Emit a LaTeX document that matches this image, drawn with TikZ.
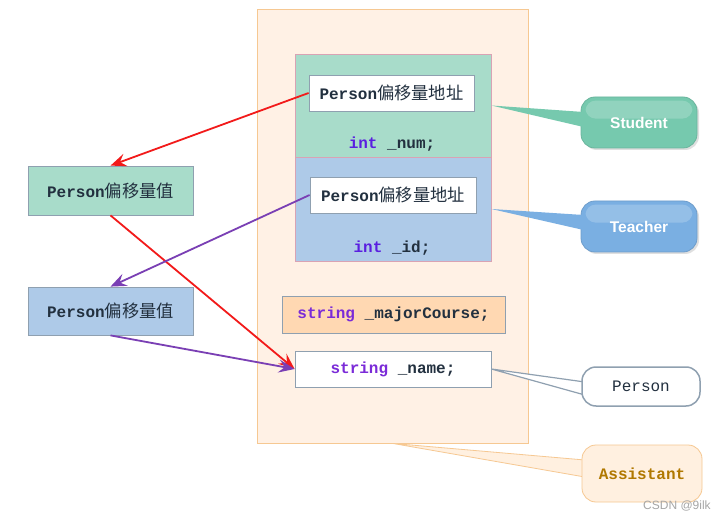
\documentclass[tikz,border=0pt]{standalone}
\usepackage{fontspec}
\setmainfont{Liberation Sans}
\setmonofont{Liberation Mono}
\newfontfamily\cjk[Scale=1.08]{Noto Sans CJK SC}
\usetikzlibrary{arrows.meta,shadows,calc}
\definecolor{outerfill}{HTML}{FFF1E5}
\definecolor{outerdraw}{HTML}{F6C892}
\definecolor{greenfill}{HTML}{A8DCCA}
\definecolor{bluefill}{HTML}{AECAE8}
\definecolor{pinkdraw}{HTML}{D9A3B4}
\definecolor{greydraw}{HTML}{8FA0B0}
\definecolor{orangefill}{HTML}{FFD8B2}
\definecolor{txt}{HTML}{22303F}
\definecolor{kwint}{HTML}{5A1FE0}
\definecolor{kwstr}{HTML}{7B2BD8}
\definecolor{redarr}{HTML}{F21A1A}
\definecolor{purarr}{HTML}{7A3FB4}
\definecolor{stugreen}{HTML}{76C9AE}
\definecolor{teablue}{HTML}{7AAFE2}
\definecolor{assfill}{HTML}{FFF0E0}
\definecolor{asstxt}{HTML}{B07800}
\newcommand\pzz[1]{\ttfamily\bfseries Person{\cjk\mdseries #1}}
\tikzset{
  code/.style={font=\ttfamily\bfseries\fontsize{16}{18}\selectfont, text=txt, inner sep=0pt},
  membox/.style={draw=pinkdraw, line width=0.8pt, inner sep=0pt},
  cellbox/.style={draw=greydraw, line width=0.8pt, inner sep=0pt, font=\fontsize{16}{18}\selectfont, text=txt},
  glossy/.style={rounded corners=14pt, line width=0.8pt, inner sep=0pt, text=white,
    font=\bfseries\fontsize{15.5}{18}\selectfont,
    drop shadow={opacity=0.25, shadow xshift=2pt, shadow yshift=-2pt}},
  arr/.style={line width=1.8pt, -{Stealth[length=16pt,width=13pt,inset=6pt]}},
  callbox/.style={rounded corners=14pt, inner sep=0pt},
}
\begin{document}
\begin{tikzpicture}[x=1pt,y=-1pt]
\useasboundingbox (0,0) rectangle (722,518);
\fill[white] (0,0) rectangle (722,518);

% outer Assistant object
\node[fill=outerfill, draw=outerdraw, line width=0.8pt, minimum width=271pt, minimum height=434pt, inner sep=0pt] (asst) at (392.5,226) {};

% Student part
\node[membox, fill=greenfill, minimum width=196pt, minimum height=103pt] (stu) at (393,105.5) {};
\node[membox, fill=bluefill, minimum width=196pt, minimum height=104pt] (tea) at (393,209) {};
\node[cellbox, fill=white, minimum width=165pt, minimum height=36pt] (in1) at (391.5,93) {\pzz{偏移量地址}};
\node[cellbox, fill=white, minimum width=166pt, minimum height=36pt] (in2) at (393,195) {\pzz{偏移量地址}};
\node[code] (num) at (392,144) {\textcolor{kwint}{int} \_num;};
\node[code] (id) at (392,248) {\textcolor{kwint}{int} \_id;};

% majorCourse and name
\node[cellbox, fill=orangefill, minimum width=223pt, minimum height=37pt, font=\ttfamily\bfseries\fontsize{16}{18}\selectfont] (major) at (393.5,314.5) {\textcolor{kwstr}{string} \_majorCourse;};
\node[cellbox, fill=white, minimum width=196pt, minimum height=36pt, font=\ttfamily\bfseries\fontsize{16}{18}\selectfont] (name) at (393,369) {\textcolor{kwstr}{string} \_name;};

% left value boxes
\node[cellbox, fill=greenfill, minimum width=165pt, minimum height=49pt] (left1) at (110.5,190.5) {\pzz{偏移量值}};
\node[cellbox, fill=bluefill, minimum width=165pt, minimum height=48pt] (left2) at (110.5,311) {\pzz{偏移量值}};

% callouts
\node[glossy, fill=stugreen, draw=stugreen!90!black, minimum width=116pt, minimum height=51pt] (stucall) at (639,122.5) {};
\fill[stugreen] (stu.east) -- ($(stucall.west)+(3,-10.5)$) -- ($(stucall.west)+(3,4.5)$) -- cycle;
\fill[white, opacity=0.2, rounded corners=10pt] ($(stucall.north west)+(5,4)$) rectangle ($(stucall.north east)+(-5,22)$);
\node[text=white, font=\bfseries\fontsize{15.5}{18}\selectfont] (stulab) at (stucall) {Student};

\node[glossy, fill=teablue, draw=teablue!90!black, minimum width=116pt, minimum height=51pt] (teacall) at (639,226.5) {};
\fill[teablue] (tea.east) -- ($(teacall.west)+(3,-11.5)$) -- ($(teacall.west)+(3,3.5)$) -- cycle;
\fill[white, opacity=0.2, rounded corners=10pt] ($(teacall.north west)+(5,4)$) rectangle ($(teacall.north east)+(-5,22)$);
\node[text=white, font=\bfseries\fontsize{15.5}{18}\selectfont] (tealab) at (teacall) {Teacher};

\path node[callbox, minimum width=118pt, minimum height=39pt] (personcall) at (641,386.5) {};
\draw[greydraw, line width=1.2pt, fill=white] (name.east) -- ($(personcall.west)+(3,-4.5)$) -- ($(personcall.west)+(3,8.5)$) -- cycle;
\node[callbox, draw=greydraw, line width=1.5pt, fill=white, minimum width=118pt, minimum height=39pt, code] (personlab) at (personcall) {\mdseries Person};

\path node[callbox, minimum width=120pt, minimum height=57pt] (asscall) at (642,473.5) {};
\draw[outerdraw, line width=0.8pt, fill=assfill] (asst.south) -- ($(asscall.west)+(3,-13.5)$) -- ($(asscall.west)+(3,3.5)$) -- cycle;
\node[callbox, draw=outerdraw, line width=0.8pt, fill=assfill, minimum width=120pt, minimum height=57pt, code, text=asstxt] (asslab) at (asscall) {Assistant};

% arrows
\draw[arr, redarr] (in1.west) -- (left1.north);
\draw[arr, redarr] (left1.south) -- (name.west);
\draw[arr, purarr] (in2.west) -- (left2.north);
\draw[arr, purarr] (left2.south) -- (name.west);

\node[text=black!35, font=\fontsize{12}{14}\selectfont, inner sep=0pt] (wm) at (677,506) {CSDN @9ilk};
\end{tikzpicture}
\end{document}
